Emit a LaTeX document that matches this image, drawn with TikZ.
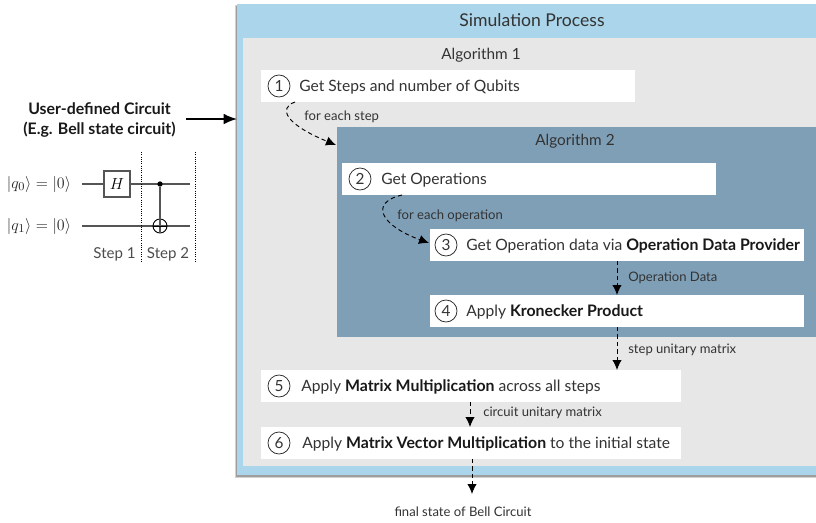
\documentclass[tikz,border=0pt]{standalone}
\usepackage{fontspec}
\setmainfont{Lato}
\usetikzlibrary{arrows.meta,calc}
\definecolor{outerblue}{HTML}{ABD5EA}
\definecolor{innergray}{HTML}{E7E7E7}
\definecolor{algblue}{HTML}{7F9FB7}
\definecolor{txt}{HTML}{333333}
\definecolor{wire}{HTML}{555555}
\tikzset{
  panel/.style={draw=none,inner sep=0pt,outer sep=0pt,anchor=north west},
  stepbox/.style={panel,fill=white,minimum height=24pt},
  num/.style={circle,draw=black!85,line width=.55pt,minimum size=16.5pt,inner sep=0pt,font=\fontsize{11.5}{12}\selectfont,text=txt},
  stxt/.style={anchor=base west,inner sep=0pt,font=\fontsize{11.7}{12}\selectfont,text=txt},
  title/.style={anchor=base,inner sep=0pt,font=\fontsize{11.5}{13}\selectfont,text=black!80},
  lab/.style={anchor=base west,inner sep=0pt,font=\fontsize{9.8}{11}\selectfont,text=txt},
  flow/.style={dashed,dash pattern=on 3.2pt off 2.4pt,line width=.7pt,-{Latex[length=7.5pt,width=7pt]}},
  wireline/.style={line width=.9pt,draw=wire},
  sep/.style={densely dotted,line width=.7pt,black},
  mathlab/.style={inner sep=0pt,font=\fontsize{13}{14}\selectfont,text=black!85},
}
\newcommand{\bt}[1]{{\fontsize{11.9}{12}\selectfont\textbf{\textcolor{black!90}{#1}}}}
\begin{document}
\begin{tikzpicture}[x=.75pt,y=-.75pt]
\useasboundingbox (0,0) rectangle (816,522);
% panels
\fill[black!18] (235,5) rectangle (816,478);
\fill[black!38] (236,6) rectangle (816,476.5);
\node[panel,fill=outerblue,minimum width=434.25pt,minimum height=353pt] (outer) at (237,4) {};
\node[panel,fill=innergray,minimum width=429.75pt,minimum height=321pt] (algone) at (243,38) {};
\node[panel,fill=algblue,minimum width=359.25pt,minimum height=157.5pt] (algtwo) at (337,127) {};
\node[title,font=\fontsize{13.2}{14}\selectfont] (t0) at (532,26) {Simulation Process};
\node[title] (t1) at (481,59) {Algorithm 1};
\node[title] (t2) at (575,145) {Algorithm 2};
% step boxes
\node[stepbox,minimum width=280.5pt] (b1) at (261,70) {};
\node[stepbox,minimum width=280.5pt] (b2) at (342,163) {};
\node[stepbox,minimum width=280.5pt] (b3) at (430,229) {};
\node[stepbox,minimum width=280.5pt] (b4) at (430,295) {};
\node[stepbox,minimum width=315pt] (b5) at (261,370) {};
\node[stepbox,minimum width=315pt] (b6) at (261,427) {};
\node[num] (n1) at (279,86) {1};
\node[num] (n2) at (360,179) {2};
\node[num] (n3) at (446,245) {3};
\node[num] (n4) at (446,311) {4};
\node[num] (n5) at (279,386) {5};
\node[num] (n6) at (279,443) {6};
\node[stxt] (s1) at (299,91.5) {Get Steps and number of Qubits};
\node[stxt] (s2) at (381,184.5) {Get Operations};
\node[stxt] (s3) at (466,250.5) {Get Operation data via \bt{Operation Data Provider}};
\node[stxt] (s4) at (466,316.5) {Apply \bt{Kronecker Product}};
\node[stxt] (s5) at (301,391.5) {Apply \bt{Matrix Multiplication} across all steps};
\node[stxt] (s6) at (302,448.5) {Apply \bt{Matrix Vector Multiplication} to the initial state};
% labels
\node[lab] (l1) at (304,120) {for each step};
\node[lab] (l2) at (397,219) {for each operation};
\node[lab] (l3) at (628,281) {Operation Data};
\node[lab] (l4) at (628,353) {step unitary matrix};
\node[lab] (l5) at (483,416) {circuit unitary matrix};
\node[lab,anchor=base] (l6) at (463,516) {final state of Bell Circuit};
% connectors
\coordinate (c1a) at (295,102);
\coordinate (c1b) at (336,145);
\coordinate (c2a) at (402,195);
\coordinate (c2b) at (429,243);
\coordinate (c6) at (472,494);
\draw[flow] (c1a) .. controls (278,108) and (285,124) .. (c1b);
\draw[flow] (c2a) .. controls (368,203) and (382,226) .. (c2b);
\draw[flow] (b3.south -| 617,261) -- (b4.north -| 617,295);
\draw[flow] (b4.south -| 617,327) -- (617,370);
\draw[flow] (b5.south -| 470,402) -- (b6.north -| 470,427);
\draw[flow] (b6.south -| 472,459) -- (c6);
% left title
\node[align=center,inner sep=0pt,font=\fontsize{11.9}{15}\selectfont\bfseries,text=black!90] (ut) at (99.5,120.5) {User-defined Circuit\\(E.g. Bell state circuit)};
\coordinate (ua) at (186,119);
\draw[line width=1.2pt,-{Latex[length=10pt,width=8pt]}] (ua) -- (ua -| outer.west);
% circuit
\node[mathlab] (q0) at (39,184) {$\left|q_0\right\rangle=\left|0\right\rangle$};
\node[mathlab] (q1) at (39,226) {$\left|q_1\right\rangle=\left|0\right\rangle$};
\coordinate (w0a) at (82,184); \coordinate (w0b) at (190,184);
\coordinate (w1a) at (82,226); \coordinate (w1b) at (190,226);
\draw[wireline] (w0a) -- (w0b);
\draw[wireline] (w1a) -- (w1b);
\node[draw=wire,line width=.9pt,fill=white,minimum size=19.5pt,inner sep=0pt,font=\fontsize{12}{13}\selectfont] (h) at (117,184) {$H$};
\node[circle,fill=black,minimum size=4pt,inner sep=0pt] (ctrl) at (160,184) {};
\node[circle,draw=black,line width=.7pt,minimum size=10.5pt,inner sep=0pt] (targ) at (160,226) {};
\draw[wireline] (ctrl) -- (targ.south);
\draw[black,line width=.7pt] (targ.west) -- (targ.east);
\coordinate (d1a) at (141,152); \coordinate (d1b) at (141,263);
\coordinate (d2a) at (195,152); \coordinate (d2b) at (195,263);
\draw[sep] (d1a) -- (d1b);
\draw[sep] (d2a) -- (d2b);
\node[anchor=base,inner sep=0pt,font=\fontsize{11.3}{12}\selectfont,text=black!70] (st1) at (114.5,258) {Step 1};
\node[anchor=base,inner sep=0pt,font=\fontsize{11.3}{12}\selectfont,text=black!70] (st2) at (168,258) {Step 2};
\end{tikzpicture}
\end{document}
